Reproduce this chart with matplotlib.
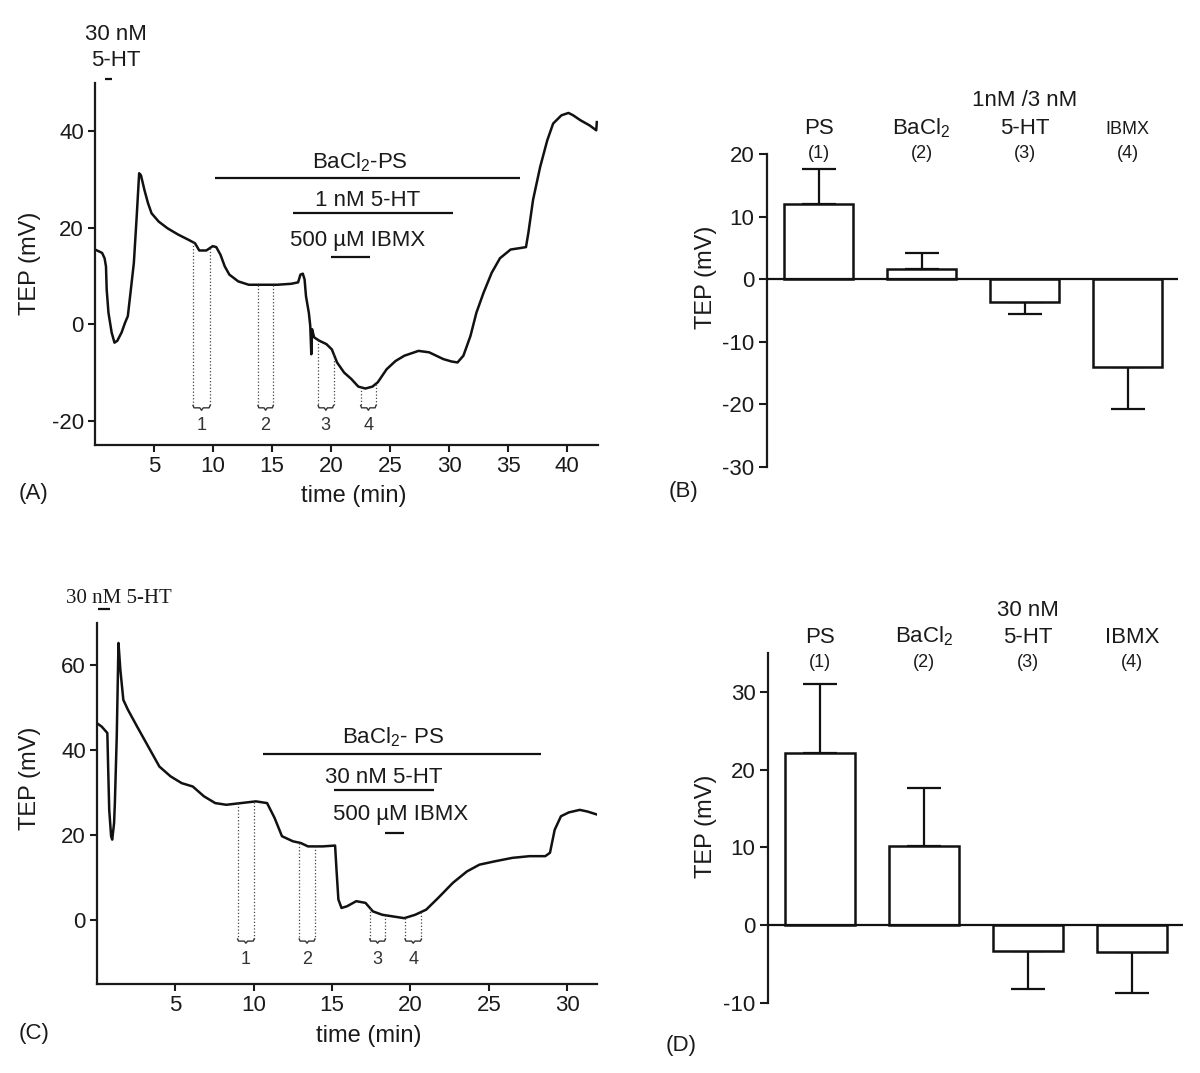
import numpy as np
import matplotlib
matplotlib.use("Agg")
import matplotlib.pyplot as plt

plt.rcParams['font.family'] = ['Liberation Sans', 'DejaVu Sans']
plt.rcParams['mathtext.fontset'] = 'custom'
plt.rcParams['mathtext.rm'] = 'Liberation Sans'
plt.rcParams['mathtext.it'] = 'Liberation Sans'
plt.rcParams['mathtext.default'] = 'regular'
plt.rcParams['axes.unicode_minus'] = False

# ---------------- data ----------------
# Panel A trace (time in min, TEP in mV)
trace_a_t = [0, 0.6, 0.81, 0.93, 0.99, 1.14, 1.41, 1.65, 1.89, 2.25, 2.54, 2.78, 2.99, 3.29,
             3.53, 3.74, 3.89, 4.19, 4.49, 4.79, 5.39, 6.14, 7.04, 7.93, 8.47, 8.83, 9.43, 9.97,
             10.27, 10.63, 10.99, 11.38, 12.13, 13.02, 14.22, 15.42, 16.62, 17.2, 17.4, 17.6,
             17.75, 17.87, 18.11, 18.23, 18.32, 18.38, 18.56, 19.0, 19.6, 20.06, 20.5, 21.1,
             21.7, 22.3, 22.9, 23.5, 23.95, 24.7, 25.45, 26.2, 27.4, 28.3, 29.5, 30.2, 30.7,
             31.2, 31.8, 32.3, 32.9, 33.6, 34.3, 35.2, 36.0, 36.5, 36.7, 37.1, 37.7, 38.3,
             38.8, 39.5, 40.1, 40.5, 41.1, 41.9, 42.45, 42.5]
trace_a_v = [15.5, 14.8, 13.7, 12.0, 7.2, 2.4, -1.7, -3.8, -3.4, -1.7, 0.3, 1.7, 6.2, 12.7,
             22.3, 31.3, 30.9, 27.8, 25.1, 23.0, 21.3, 19.9, 18.6, 17.5, 16.8, 15.3, 15.3, 16.2,
             16.0, 14.4, 12.0, 10.3, 8.9, 8.2, 8.2, 8.2, 8.4, 8.7, 10.3, 10.5,
             9.3, 5.8, 2.4, -0.3, -6.2, -1.0, -2.7, -3.4, -4.1, -5.2, -7.9, -10.0,
             -11.3, -12.9, -13.3, -12.9, -12.0, -9.3, -7.6, -6.5, -5.5, -5.8, -7.2, -7.7, -7.9,
             -6.5, -2.4, 2.4, 6.5, 10.7, 13.7, 15.5, 15.8, 16.0, 18.9, 25.8, 32.6, 38.1,
             41.6, 43.3, 43.8, 43.3, 42.3, 41.2, 40.2, 41.9]
windows_a = [(8.3, 9.75), (13.8, 15.1), (18.9, 20.2), (22.5, 23.8)]

# Panel C trace
trace_c_t = [0, 0.3, 0.66, 0.71, 0.78, 0.9, 0.97, 1.09, 1.14, 1.26, 1.37, 1.49, 1.68, 1.97,
             2.56, 3.27, 3.98, 4.69, 5.4, 6.11, 6.82, 7.54, 8.25, 9.19, 10.14, 10.85, 11.33,
             11.8, 12.5, 13.0, 13.46, 14.4, 15.19, 15.28, 15.4, 15.6, 15.95, 16.54, 17.13,
             17.6, 18.2, 18.9, 19.6, 20.3, 21.0, 21.75, 22.7, 23.6, 24.4, 25.4, 26.5, 27.6,
             28.6, 28.9, 29.2, 29.6, 30.1, 30.8, 31.3, 31.9]
trace_c_v = [46.4, 45.6, 44.1, 36.2, 26.0, 19.8, 19.0, 22.9, 27.6, 43.3, 65.3, 59.0, 51.9, 49.6,
             45.6, 40.9, 36.2, 33.9, 32.3, 31.5, 29.2, 27.6, 27.2, 27.6, 28.0, 27.6, 24.1,
             19.8, 18.6, 18.2, 17.4, 17.4, 17.6, 11.9, 4.9, 2.9, 3.3, 4.5, 4.1,
             2.1, 1.3, 0.9, 0.5, 1.3, 2.5, 5.2, 8.8, 11.5, 13.1, 13.9, 14.7, 15.1,
             15.1, 15.9, 21.3, 24.5, 25.4, 26.0, 25.6, 24.9]
windows_c = [(8.97, 10.03), (12.9, 13.9), (17.4, 18.4), (19.65, 20.7)]
window_labels = ['1', '2', '3', '4']

# Panel B bars
b_top = ['', '', '1nM /3 nM', '']
b_names = ['PS', 'BaCl$_2$', '5-HT', 'IBMX']
b_nums = ['(1)', '(2)', '(3)', '(4)']
b_vals = [12.0, 1.6, -3.6, -14.1]
b_err = [5.6, 2.6, 2.0, 6.7]

# Panel D bars
d_top = ['', '', '30 nM', '']
d_names = ['PS', 'BaCl$_2$', '5-HT', 'IBMX']
d_nums = ['(1)', '(2)', '(3)', '(4)']
d_vals = [22.1, 10.2, -3.3, -3.5]
d_err = [8.9, 7.4, 4.9, 5.2]

# ---------------- figure ----------------
W, H = 1200, 1073
fig = plt.figure(figsize=(W / 100, H / 100), dpi=100)
TXT = '#1a1a1a'
FS = 16


def ax_rect(l, t, r, b):
    return [l / W, 1 - b / H, (r - l) / W, (b - t) / H]


def style_axes(ax):
    for s in ['top', 'right']:
        ax.spines[s].set_visible(False)
    for s in ['left', 'bottom']:
        ax.spines[s].set_linewidth(1.6)
        ax.spines[s].set_color(TXT)
    ax.tick_params(direction='out', length=5, width=1.5, labelsize=FS, colors=TXT, pad=3)


def draw_windows(ax, t, v, windows, labels, base, dip, corner, lab_y):
    for (t0, t1), lab in zip(windows, labels):
        y0 = np.interp(t0, t, v)
        y1 = np.interp(t1, t, v)
        ax.plot([t0, t0], [y0, base + corner], ls=':', lw=0.9, color='#444444')
        ax.plot([t1, t1], [y1, base + corner], ls=':', lw=0.9, color='#444444')
        tm = 0.5 * (t0 + t1)
        w = t1 - t0
        xs = [t0, t0 + 0.06 * w, tm - 0.1 * w, tm, tm + 0.1 * w, t1 - 0.06 * w, t1]
        ys = [base + corner, base, base, base - dip, base, base, base + corner]
        ax.plot(xs, ys, lw=1.0, color='#333333')
        ax.text(tm, lab_y, lab, ha='center', va='center', fontsize=13, color='#333333')


# ---------- Panel A ----------
axA = fig.add_axes(ax_rect(95, 83, 598, 445))
style_axes(axA)
axA.plot(trace_a_t, trace_a_v, color='#111111', lw=1.8)
axA.set_xlim(0, 42.6)
axA.set_ylim(-25, 50)
axA.set_xticks([5, 10, 15, 20, 25, 30, 35, 40])
axA.set_yticks([-20, 0, 20, 40])
draw_windows(axA, trace_a_t, trace_a_v, windows_a, window_labels, -17.3, 0.5, 0.5, -21.0)
kw = dict(color='#111111', lw=1.6, clip_on=False, solid_capstyle='butt')
axA.plot([0.85, 1.4], [50.8, 50.8], **kw)
axA.text(1.8, 59.0, '30 nM', ha='center', va='baseline', fontsize=FS, color=TXT, clip_on=False)
axA.text(1.8, 53.5, '5-HT', ha='center', va='baseline', fontsize=FS, color=TXT, clip_on=False)
axA.plot([10.2, 36.0], [30.4, 30.4], **kw)
axA.text(22.4, 32.3, 'BaCl$_2$-PS', ha='center', va='baseline', fontsize=FS, color=TXT)
axA.plot([16.8, 30.3], [23.0, 23.0], **kw)
axA.text(23.05, 24.5, '1 nM 5-HT', ha='center', va='baseline', fontsize=FS, color=TXT)
axA.plot([20.0, 23.3], [14.0, 14.0], **kw)
axA.text(22.2, 16.2, '500 µM IBMX', ha='center', va='baseline', fontsize=FS, color=TXT)

fig.text(30 / W, 1 - 263 / H, 'TEP (mV)', rotation=90, ha='center', va='center', fontsize=17, color=TXT)
fig.text(354 / W, 1 - 496 / H, 'time (min)', ha='center', va='center', fontsize=17, color=TXT)
fig.text(34 / W, 1 - 493 / H, '(A)', ha='center', va='center', fontsize=FS, color=TXT)

# ---------- Panel C ----------
axC = fig.add_axes(ax_rect(97, 623, 597, 984))
style_axes(axC)
axC.plot(trace_c_t, trace_c_v, color='#111111', lw=1.8)
axC.set_xlim(0, 31.9)
axC.set_ylim(-15, 70)
axC.set_xticks([5, 10, 15, 20, 25, 30])
axC.set_yticks([0, 20, 40, 60])
draw_windows(axC, trace_c_t, trace_c_v, windows_c, window_labels, -4.9, 0.5, 0.5, -9.3)
axC.plot([0.05, 0.8], [73.3, 73.3], **kw)
axC.text(1.42, 74.8, '30 nM 5-HT', ha='center', va='baseline', fontsize=15, color=TXT,
         family=['Liberation Serif', 'DejaVu Serif'], clip_on=False)
axC.plot([10.6, 28.3], [39.2, 39.2], **kw)
axC.text(18.9, 41.6, 'BaCl$_2$- PS', ha='center', va='baseline', fontsize=FS, color=TXT)
axC.plot([15.1, 21.5], [30.6, 30.6], **kw)
axC.text(18.3, 32.3, '30 nM 5-HT', ha='center', va='baseline', fontsize=FS, color=TXT)
axC.plot([18.4, 19.6], [20.5, 20.5], **kw)
axC.text(19.4, 23.5, '500 µM IBMX', ha='center', va='baseline', fontsize=FS, color=TXT)

fig.text(30 / W, 1 - 778 / H, 'TEP (mV)', rotation=90, ha='center', va='center', fontsize=17, color=TXT)
fig.text(369 / W, 1 - 1036 / H, 'time (min)', ha='center', va='center', fontsize=17, color=TXT)
fig.text(34 / W, 1 - 1033 / H, '(C)', ha='center', va='center', fontsize=FS, color=TXT)


# ---------- bar panels ----------
def bar_panel(rect, vals, errs, tops, names, nums, ylim, yticks, y_top, y_name, y_num,
              name_sizes):
    ax = fig.add_axes(rect)
    for s in ['top', 'right', 'bottom']:
        ax.spines[s].set_visible(False)
    ax.spines['left'].set_linewidth(1.6)
    ax.spines['left'].set_color(TXT)
    ax.tick_params(axis='y', direction='out', length=6, width=1.5, labelsize=FS, colors=TXT, pad=3)
    ax.tick_params(axis='x', bottom=False, labelbottom=False)
    x = np.arange(len(vals))
    ax.bar(x, vals, width=0.67, facecolor='white', edgecolor='#111111', linewidth=1.8, zorder=2)
    lower = [0 if v >= 0 else e for v, e in zip(vals, errs)]
    upper = [e if v >= 0 else 0 for v, e in zip(vals, errs)]
    ax.errorbar(x, vals, yerr=[lower, upper], fmt='none', ecolor='#111111', elinewidth=1.6,
                capsize=12, capthick=1.6, zorder=1)
    ax.axhline(0, color='#111111', lw=1.6, zorder=3)
    ax.set_xlim(-0.5, 3.49)
    ax.set_ylim(*ylim)
    ax.set_yticks(yticks)
    for i in range(len(vals)):
        if tops[i]:
            ax.text(i, y_top, tops[i], ha='center', va='baseline', fontsize=FS, color=TXT, clip_on=False)
        ax.text(i, y_name, names[i], ha='center', va='baseline', fontsize=name_sizes[i], color=TXT,
                clip_on=False)
        ax.text(i, y_num, nums[i], ha='center', va='baseline', fontsize=13, color=TXT, clip_on=False)
    return ax


bar_panel(ax_rect(767, 154, 1178, 467), b_vals, b_err, b_top, b_names, b_nums,
          (-30, 20), [-30, -20, -10, 0, 10, 20], 27.6, 23.2, 19.4, [FS, FS, FS, 13])
fig.text(706 / W, 1 - 277 / H, 'TEP (mV)', rotation=90, ha='center', va='center', fontsize=17, color=TXT)
fig.text(683 / W, 1 - 491 / H, '(B)', ha='center', va='center', fontsize=FS, color=TXT)

bar_panel(ax_rect(768, 653, 1183, 1003), d_vals, d_err, d_top, d_names, d_nums,
          (-10, 35), [-10, 0, 10, 20, 30], 39.7, 36.3, 33.2, [FS, FS, FS, FS])
fig.text(706 / W, 1 - 826 / H, 'TEP (mV)', rotation=90, ha='center', va='center', fontsize=17, color=TXT)
fig.text(681 / W, 1 - 1046 / H, '(D)', ha='center', va='center', fontsize=FS, color=TXT)

fig.savefig('out.png', dpi=100, facecolor='white')
